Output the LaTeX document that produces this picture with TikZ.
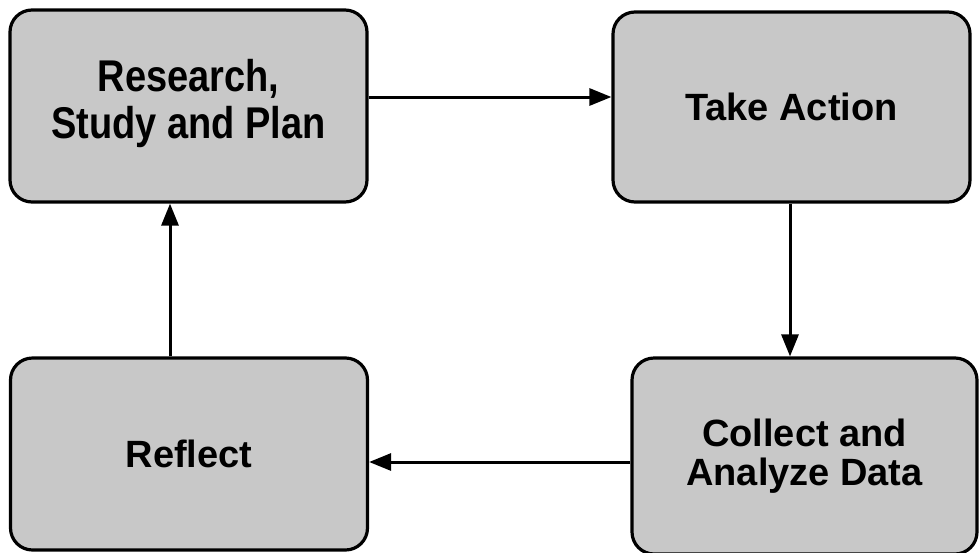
\documentclass[tikz,border=0pt]{standalone}
\usepackage{fontspec}
\setmainfont{Liberation Sans}
\usetikzlibrary{arrows.meta}
\definecolor{boxgray}{RGB}{200,200,200}
\begin{document}
\begin{tikzpicture}[x=1pt,y=-1pt,
  stagebox/.style={draw=black, line width=3.2pt, fill=boxgray, rounded corners=22pt,
    minimum width=357pt, minimum height=192pt, inner sep=0pt, align=center,
    font=\fontsize{38}{39}\selectfont\bfseries},
  flow/.style={line width=3pt, -{Triangle[length=22pt,width=17pt]}}]
\useasboundingbox (0,0) rectangle (979,552);
\node[stagebox] (rsp) at (188.5,106) {\scalebox{1}[1.17]{\fontsize{38}{40}\selectfont\begin{tabular}{@{}c@{}}Research,\\Study and Plan\end{tabular}}};
\node[stagebox, minimum height=190pt] (ta) at (791.5,107) {Take Action};
\node[stagebox, minimum width=345pt, minimum height=196pt] (cad) at (804.5,456) {Collect and\\Analyze Data};
\node[stagebox] (ref) at (189,454) {Reflect};
\draw[flow] (rsp.east |- 0,97) -- (ta.west |- 0,97);
\draw[flow] (ta.south -| 790,0) -- (cad.north -| 790,0);
\draw[flow] (cad.west |- 0,462) -- (ref.east |- 0,462);
\draw[flow] (ref.north -| 170,0) -- (rsp.south -| 170,0);
\end{tikzpicture}
\end{document}
